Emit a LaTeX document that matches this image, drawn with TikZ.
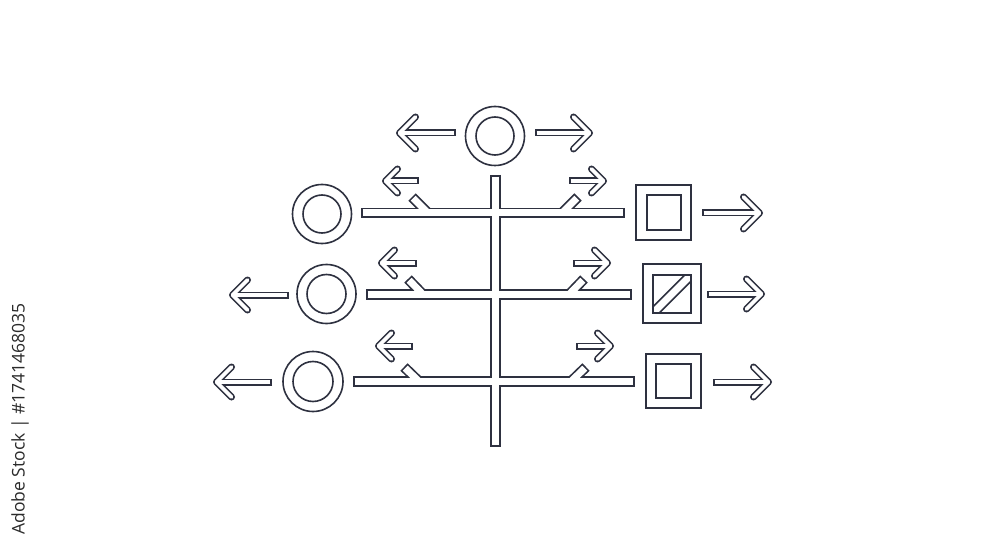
\documentclass[tikz,border=0pt]{standalone}
\usepackage{fontspec}
\newfontfamily\wmfont{Open Sans}
\definecolor{ink}{HTML}{2E3140}
\definecolor{wmgray}{HTML}{2B2B2B}
% left arrow: tip(outer x), shaft end x, y, half height
\newcommand\arrowL[4]{%
  \draw[arr] (#2,#3) -- ({#1+3.5},#3);
  \draw[chev] ({#1+3.5+#4-3},{#3-#4+3}) -- ({#1+3.5},#3) -- ({#1+3.5+#4-3},{#3+#4-3});}
% right arrow: shaft start x, tip(outer x), y, half height
\newcommand\arrowR[4]{%
  \draw[arr] (#1,#3) -- ({#2-3.5},#3);
  \draw[chev] ({#2-3.5-#4+3},{#3-#4+3}) -- ({#2-3.5},#3) -- ({#2-3.5-#4+3},{#3+#4-3});}
\newcommand\alltubes{%
  % trunk and bars
  \draw[bar] (495.5,175) -- (495.5,447);
  \draw[bar] (361,213) -- (625,213);
  \draw[bar] (366,294.5) -- (632,294.5);
  \draw[bar] (353,381.5) -- (635,381.5);
  % stubs
  \draw[stub] (412,197) -- (427,212);
  \draw[stub] (578,197) -- (563,212);
  \draw[stub] (408,279) -- (422,293.5);
  \draw[stub] (584,279) -- (570,293.5);
  \draw[stub] (404,367) -- (418,380.5);
  \draw[stub] (586,367) -- (572,380.5);
  % top arrows
  \arrowL{396}{456}{133}{19}
  \arrowR{535}{593}{133}{19}
  % row 1
  \arrowL{382}{419}{181}{15}
  \arrowR{569}{607}{181}{15}
  \arrowR{702}{763}{213}{19}
  % row 2
  \arrowL{229}{289}{295}{18}
  \arrowL{378}{417}{263}{16}
  \arrowR{573}{611}{263}{16}
  \arrowR{707}{765}{294}{18}
  % row 3
  \arrowL{213}{272}{382}{18}
  \arrowL{375}{413}{346}{16}
  \arrowR{576}{614}{346}{16}
  \arrowR{713}{772}{382}{18}
  % diagonal band in the middle square
  \begin{scope}
    \clip (653,275) rectangle (691,313);
    \draw[diag] (640,326) -- (704,262);
  \end{scope}}
\begin{document}
\begin{tikzpicture}[x=1pt,y=-1pt,
  ring/.style={draw=ink,line width=1.6pt}]
\useasboundingbox (0,0) rectangle (1000,545);
\fill[white] (0,0) rectangle (1000,545);
% dark pass
\tikzset{bar/.style={draw=ink,line width=10.4pt},
         stub/.style={draw=ink,line width=10.4pt},
         diag/.style={draw=ink,line width=10.4pt},
         arr/.style={draw=ink,line width=7pt},
         chev/.style={draw=ink,line width=7pt,line cap=round,line join=round}}
\alltubes
% white pass
\tikzset{bar/.style={draw=white,line width=7pt,shorten <=1.7pt,shorten >=1.7pt},
         stub/.style={draw=white,line width=7pt,shorten <=1.7pt},
         diag/.style={draw=white,line width=7pt},
         arr/.style={draw=white,line width=3.8pt,shorten <=1.6pt},
         chev/.style={draw=white,line width=3.8pt,line cap=round,line join=round}}
\alltubes
% circles
\draw[ring] (495,136) circle (29.5) (495,136) circle (19);
\draw[ring] (322,214) circle (29.5) (322,214) circle (19);
\draw[ring] (326.5,294) circle (29.5) (326.5,294) circle (19.5);
\draw[ring] (313,381.5) circle (30) (313,381.5) circle (20);
% squares
\draw[ring] (636,185) rectangle (691,240) (647,195) rectangle (681,230);
\draw[ring] (643,264) rectangle (701,323) (653,275) rectangle (691,313);
\draw[ring] (646,354) rectangle (701,408) (656,364) rectangle (691,398);
% side credit
\node[rotate=90,text=wmgray,font=\wmfont\fontsize{17.5}{17.5}\selectfont,inner sep=0pt] (credit) at (20,419) {Adobe Stock | \#1741468035};
\end{tikzpicture}
\end{document}
